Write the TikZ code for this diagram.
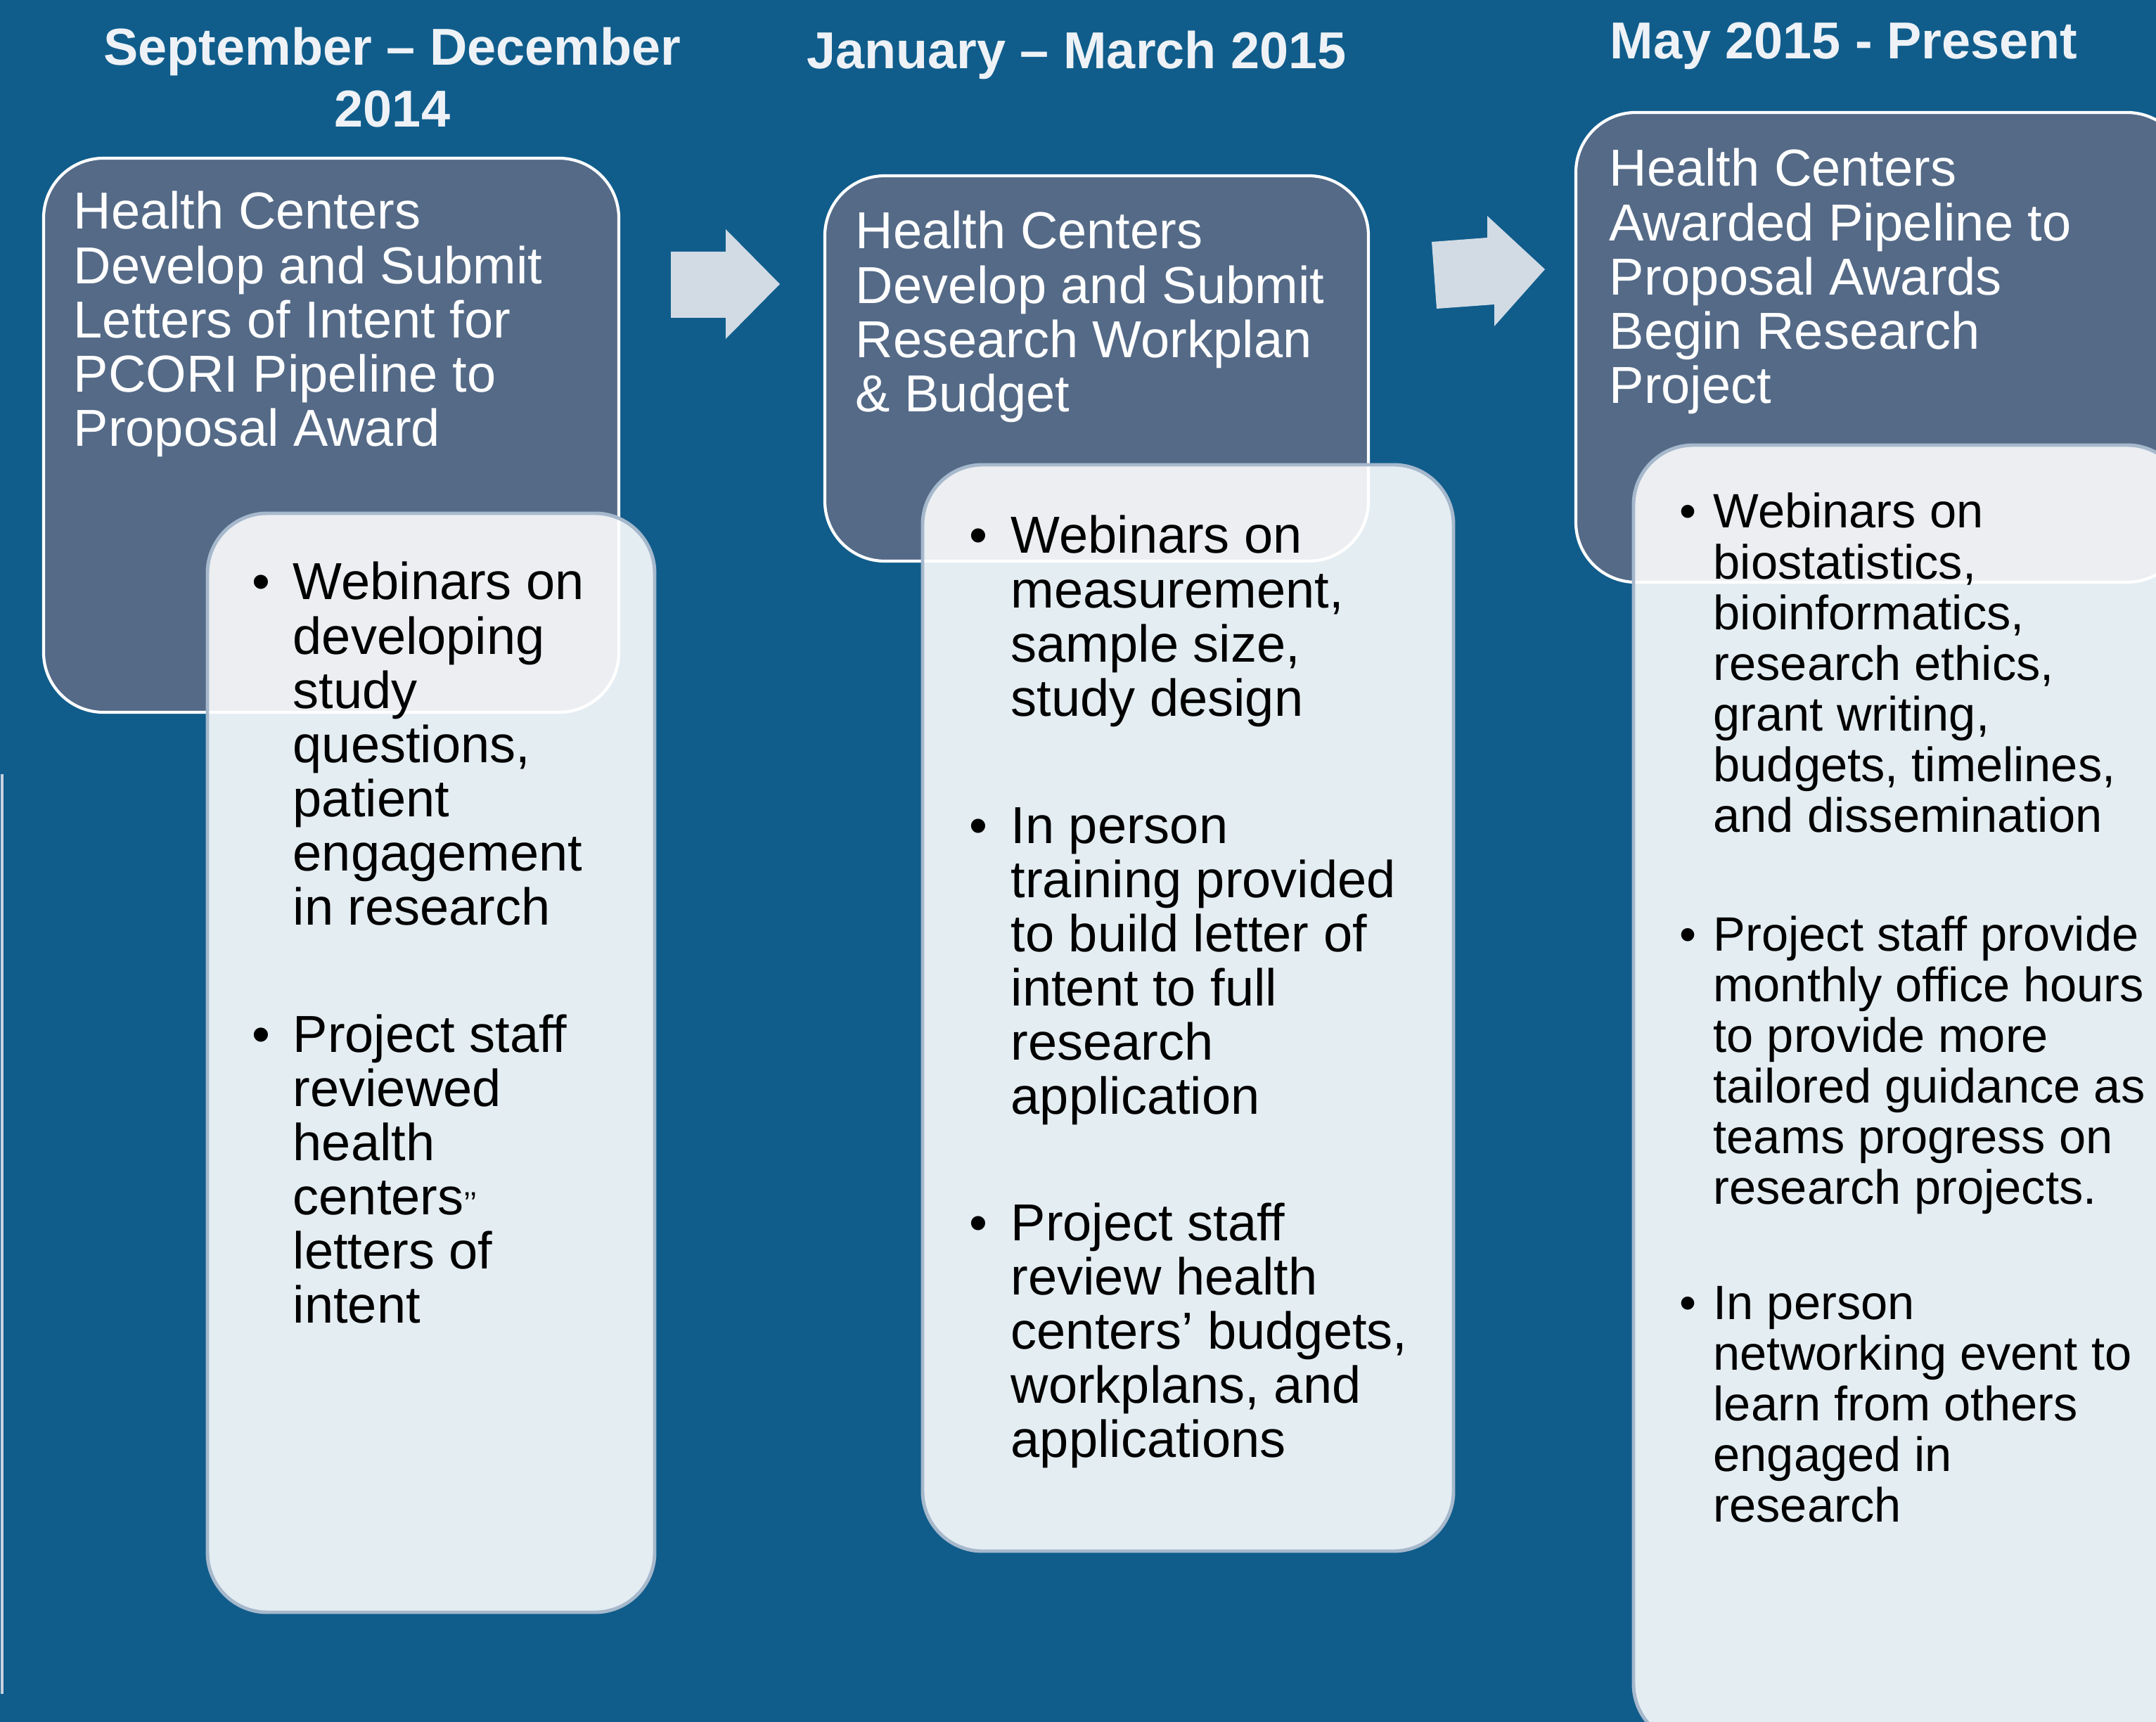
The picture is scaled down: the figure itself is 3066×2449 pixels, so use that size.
\documentclass[tikz,border=0pt]{standalone}
\usepackage{fontspec}
\setmainfont{Liberation Sans}
\definecolor{bgcol}{HTML}{105D8C}
\definecolor{hdrfill}{HTML}{546A87}
\definecolor{bodyline}{HTML}{A6B8CC}
\definecolor{arrowcol}{HTML}{D2DBE4}
\definecolor{titlecol}{HTML}{EEF2F6}
\definecolor{edgecol}{HTML}{C8D2DE}
\newcommand\mlines[1]{\begin{tabular}[t]{@{}l@{}}#1\end{tabular}}
\newcommand\clines[1]{\begin{tabular}[t]{@{}c@{}}#1\end{tabular}}
\tikzset{
  hdrbox/.style={draw=white, line width=1.2pt, fill=hdrfill, rounded corners=0.85cm},
  bodybox/.style={draw=bodyline, line width=1.4pt, fill=white, fill opacity=0.89, rounded corners=0.85cm},
  blockarrow/.style={fill=arrowcol, draw=none},
  titletxt/.style={font=\bfseries\fontsize{21pt}{25pt}\selectfont, text=titlecol, inner sep=0pt, anchor=base},
  hdrtxt/.style={font=\fontsize{21.05pt}{21.9pt}\selectfont, text=white, inner sep=0pt, anchor=base west},
  bodytxt/.style={font=\fontsize{21.05pt}{21.9pt}\selectfont, text=black, inner sep=0pt, anchor=base west},
  smalltxt/.style={font=\fontsize{19.5pt}{20.5pt}\selectfont, text=black, inner sep=0pt, anchor=base west}
}
\begin{document}
\begin{tikzpicture}[x=0.01cm,y=-0.01cm]
\useasboundingbox (0,0) rectangle (3066,2449);
\clip (0,0) rectangle (3066,2449);
\fill[bgcol] (0,0) rectangle (3066,2449);
\draw[edgecol, line width=1pt] (3,1101) -- (3,2409);

% titles
\node[titletxt] (t1) at (558,93) {\clines{September – December\\2014}};
\node[titletxt] (t2) at (1531,98) {January – March 2015};
\node[titletxt] (t3) at (2622,84) {May 2015 - Present};

% arrows
\fill[blockarrow] (954,358) -- (1032,358) -- (1032,326) -- (1109,404) -- (1032,482) -- (1032,452) -- (954,452) -- cycle;
\fill[blockarrow] (2036,344) -- (2115,338) -- (2115,307) -- (2197,383) -- (2125,464) -- (2125,433) -- (2043,439) -- cycle;

% header boxes
\draw[hdrbox] (62,225) rectangle (880,1013);
\draw[hdrbox] (1173,250) rectangle (1946,798);
\draw[hdrbox] (2241,160) rectangle (3110,828);

\node[hdrtxt] (h1) at (104,326) {\mlines{Health Centers\\Develop and Submit\\Letters of Intent for\\PCORI Pipeline to\\Proposal Award}};
\node[hdrtxt] (h2) at (1216,354) {\mlines{Health Centers\\Develop and Submit\\Research Workplan\\\& Budget}};
\node[hdrtxt] (h3) at (2288,265) {\mlines{Health Centers\\Awarded Pipeline to\\Proposal Awards\\Begin Research\\Project}};

% body boxes
\draw[bodybox] (295,730) rectangle (931,2293);
\draw[bodybox] (1312,661) rectangle (2067,2206);
\draw[bodybox] (2323,633) rectangle (3110,2480);

% body 1
\node[bodytxt] (b1a) at (358,853) {•};
\node[bodytxt] (b1at) at (416,853) {\mlines{Webinars on\\developing\\study\\questions,\\patient\\engagement\\in research}};
\node[bodytxt] (b1b) at (358,1496) {•};
\node[bodytxt] (b1bt) at (416,1496) {\mlines{Project staff\\reviewed\\health\\centers{\fontsize{13pt}{13pt}\selectfont ’’}\\letters of\\intent}};

% body 2
\node[bodytxt] (b2a) at (1378,787) {•};
\node[bodytxt] (b2at) at (1437,787) {\mlines{Webinars on\\measurement,\\sample size,\\study design}};
\node[bodytxt] (b2b) at (1378,1199) {•};
\node[bodytxt] (b2bt) at (1437,1199) {\mlines{In person\\training provided\\to build letter of\\intent to full\\research\\application}};
\node[bodytxt] (b2c) at (1378,1764) {•};
\node[bodytxt] (b2ct) at (1437,1764) {\mlines{Project staff\\review health\\centers’ budgets,\\workplans, and\\applications}};

% body 3
\node[smalltxt] (b3a) at (2388,751) {•};
\node[smalltxt] (b3at) at (2436,751) {\mlines{Webinars on\\biostatistics,\\bioinformatics,\\research ethics,\\grant writing,\\budgets, timelines,\\and dissemination}};
\node[smalltxt] (b3b) at (2388,1352) {•};
\node[smalltxt] (b3bt) at (2436,1352) {\mlines{Project staff provide\\monthly office hours\\to provide more\\tailored guidance as\\teams progress on\\research projects.}};
\node[smalltxt] (b3c) at (2388,1876) {•};
\node[smalltxt] (b3ct) at (2436,1876) {\mlines{In person\\networking event to\\learn from others\\engaged in\\research}};
\end{tikzpicture}
\end{document}
